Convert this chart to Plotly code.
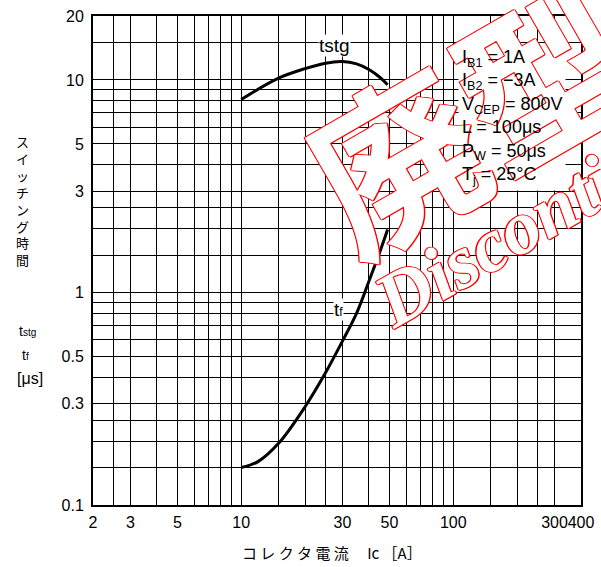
import plotly.graph_objects as go

# ---- data ----
ic_tstg = [10, 15, 20, 25, 30, 35, 40, 45, 49]
tstg = [8.1, 10.2, 11.3, 12.0, 12.2, 11.9, 11.2, 10.3, 9.5]
ic_tf = [10, 12, 15, 20, 25, 30, 35, 40, 45, 49]
tf = [0.15, 0.16, 0.195, 0.29, 0.42, 0.59, 0.8, 1.13, 1.55, 1.98]

x_major = [2, 3, 5, 10, 30, 50, 100, 300, 400]
x_major_text = ["2", "3", "5", "10", "30", "50", "100", "300", "400"]
x_minor = [2.5, 4, 6, 7, 8, 9, 15, 20, 25, 40, 60, 70, 80, 90, 150, 200, 250]
y_major = [0.1, 0.3, 0.5, 1, 3, 5, 10, 20]
y_major_text = ["0.1", "0.3", "0.5", "1", "3", "5", "10", "20"]
y_minor = [0.15, 0.2, 0.25, 0.4, 0.6, 0.7, 0.8, 0.9, 1.5, 2, 2.5, 4, 6, 7, 8, 9, 15]

conditions = [
    "I<sub>B1</sub> = 1A",
    "I<sub>B2</sub> = −3A",
    "V<sub>CEP</sub> = 800V",
    "L = 100μs",
    "P<sub>W</sub> = 50μs",
    "T<sub>j</sub> = 25°C",
]

W, H = 601, 567
L, R, T, B = 93, 20, 16, 62
PW, PH = W - L - R, H - T - B


def px(x):
    return (x - L) / PW


def py(y):
    return (H - B - y) / PH


LAT = "Liberation Sans, Arial, sans-serif"
JP = "Noto Sans CJK JP"
SERIF = "Liberation Serif, DejaVu Serif, serif"

fig = go.Figure()
fig.add_trace(go.Scatter(x=ic_tstg, y=tstg, mode="lines", line=dict(color="black", width=3, shape="spline"),
                         showlegend=False, hoverinfo="skip"))
fig.add_trace(go.Scatter(x=ic_tf, y=tf, mode="lines", line=dict(color="black", width=3, shape="spline"),
                         showlegend=False, hoverinfo="skip"))

axis_common = dict(
    type="log", showline=True, mirror=True, linecolor="black", linewidth=2,
    ticks="", showgrid=True, gridcolor="black", gridwidth=1.2, zeroline=False,
    tickfont=dict(family=LAT, size=16, color="black"), tickangle=0,
)
fig.update_xaxes(
    **axis_common, range=[0.30103, 2.60206], tickmode="array", tickvals=x_major, ticktext=x_major_text,
    minor=dict(tickmode="array", tickvals=x_minor, showgrid=True, gridcolor="black", gridwidth=1.2, ticks=""),
    ticklabelstandoff=2,
)
fig.update_yaxes(
    **axis_common, range=[-1, 1.30103], tickmode="array", tickvals=y_major, ticktext=y_major_text,
    minor=dict(tickmode="array", tickvals=y_minor, showgrid=True, gridcolor="black", gridwidth=1.2, ticks=""),
    ticklabelstandoff=4,
)


def label(x, y, text, size, family=LAT, **kw):
    d = dict(x=px(x), y=py(y), xref="paper", yref="paper", text=text, showarrow=False,
             xanchor="center", yanchor="middle", font=dict(family=family, size=size, color="black"))
    d.update(kw)
    return d


ann = []
# curve labels
ann.append(label(334, 45, "tstg", 19, bgcolor="white", borderpad=0))
ann.append(label(338, 309, "t<span style='font-size:12px'>f</span>", 19, bgcolor="white", borderpad=0))
# condition block background (text drawn again on top of the watermark)
cond_text = "<br>".join(conditions)
ann.append(dict(x=px(458), y=py(43), xref="paper", yref="paper", xanchor="left", yanchor="top",
                text=cond_text, align="left", showarrow=False,
                font=dict(family=LAT, size=18, color="white"), bgcolor="white", borderpad=3))
# y axis title (vertical stacked)
ann.append(label(22, 201, "<br>".join(list("スイッチング時間")), 13, family=JP, align="center"))
ann.append(label(27, 331, "t<span style='font-size:10px'>stg</span>", 14))
ann.append(label(25, 355, "t<span style='font-size:10px'>f</span>", 14))
ann.append(label(30, 379, "[μs]", 16))
# x axis title
ann.append(label(332, 552, "コ レ ク タ 電 流　 Ic ［A］", 15, family=JP))

# watermark: outlined red lettering (white face, red rim)
rim = "1px 0 0 red, -1px 0 0 red, 0 1px 0 red, 0 -1px 0 red, 1px 1px 0 red, -1px -1px 0 red"
ann.append(dict(x=px(466), y=py(112), xref="paper", yref="paper", text="<b>廃型</b>", showarrow=False,
                xanchor="center", yanchor="middle", textangle=-30,
                font=dict(family=JP, size=170, color="white", shadow=rim)))
ann.append(dict(x=px(562), y=py(202), xref="paper", yref="paper", text="<b><i>Discontinued</i></b>",
                showarrow=False, xanchor="center", yanchor="middle", textangle=-30,
                font=dict(family=SERIF, size=76, color="white", shadow=rim)))

# condition text on top
ann.append(dict(x=px(458), y=py(43), xref="paper", yref="paper", xanchor="left", yanchor="top",
                text=cond_text, align="left", showarrow=False,
                font=dict(family=LAT, size=18, color="black"), borderpad=3))

fig.update_layout(
    width=W, height=H, margin=dict(l=L, r=R, t=T, b=B, autoexpand=False),
    paper_bgcolor="white", plot_bgcolor="white", annotations=ann,
)
fig.write_html("out.html", config={"displayModeBar": False},
               post_script="document.body.style.margin='0';document.body.style.padding='0';")
